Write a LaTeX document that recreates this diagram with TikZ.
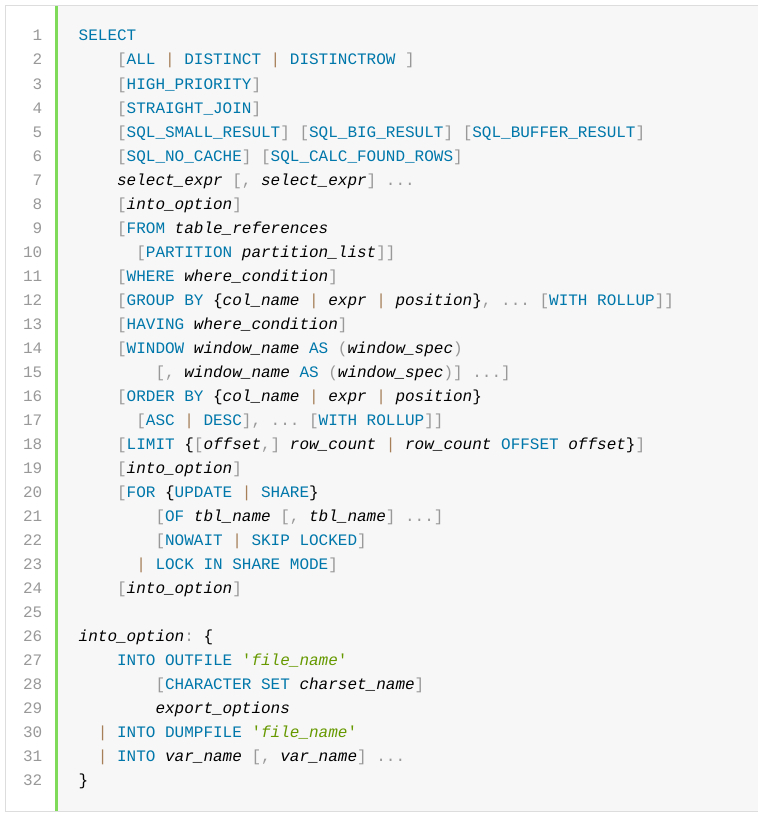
\documentclass[tikz,border=0pt]{standalone}
\usepackage{fontspec}
\setmonofont{Liberation Mono}
\usepackage{xcolor}
\definecolor{kwc}{HTML}{0077AA}
\definecolor{puc}{HTML}{999999}
\definecolor{opc}{HTML}{A67F59}
\definecolor{stc}{HTML}{669900}
\definecolor{numc}{HTML}{999999}
\definecolor{bgc}{HTML}{F7F7F7}
\definecolor{barc}{HTML}{80DA5A}
\definecolor{brc}{HTML}{DDDDDD}
\newcommand\kw[1]{\textcolor{kwc}{#1}}
\newcommand\pu[1]{\textcolor{puc}{#1}}
\newcommand\op{\textcolor{opc}{|}}
\newcommand\vi[1]{{\itshape #1}}
\newcommand\sq{\char"27\relax}
\newcommand\strg[1]{\textcolor{stc}{\sq{\itshape #1}\sq}}
\tikzset{
  codetext/.style={anchor=base west, inner sep=0pt, text=black,
    font=\ttfamily\fontsize{16}{24}\selectfont\frenchspacing},
  lnum/.style={anchor=base east, inner sep=0pt, text=numc,
    font=\ttfamily\fontsize{16}{24}\selectfont}
}
\newcommand\codeln[3]{%
  \node[codetext] (l#1) at ({78.5+9.6*#2}, {-41-24*(#1-1)}) {#3};
  \node[lnum] (n#1) at (42.5, {-41-24*(#1-1)}) {#1};}
\newcommand\numonly[1]{%
  \node[lnum] (n#1) at (42.5, {-41-24*(#1-1)}) {#1};}
\begin{document}
\begin{tikzpicture}[x=1pt,y=1pt]
\useasboundingbox (0,0) rectangle (758,-816);
\fill[white] (0,0) rectangle (758,-816);
\fill[bgc] (58,-5.5) rectangle (758,-811.5);
\fill[barc] (55,-6) rectangle (58,-811);
\draw[brc, line width=1pt] (758,-5.5) -- (5.5,-5.5) -- (5.5,-811.5) -- (758,-811.5);
\codeln{1}{0}{\kw{SELECT}}
\codeln{2}{4}{\pu{[}\kw{ALL} \op{} \kw{DISTINCT} \op{} \kw{DISTINCTROW} \pu{]}}
\codeln{3}{4}{\pu{[}\kw{HIGH\_PRIORITY}\pu{]}}
\codeln{4}{4}{\pu{[}\kw{STRAIGHT\_JOIN}\pu{]}}
\codeln{5}{4}{\pu{[}\kw{SQL\_SMALL\_RESULT}\pu{]} \pu{[}\kw{SQL\_BIG\_RESULT}\pu{]} \pu{[}\kw{SQL\_BUFFER\_RESULT}\pu{]}}
\codeln{6}{4}{\pu{[}\kw{SQL\_NO\_CACHE}\pu{]} \pu{[}\kw{SQL\_CALC\_FOUND\_ROWS}\pu{]}}
\codeln{7}{4}{\vi{select\_expr} \pu{[,} \vi{select\_expr}\pu{]} \pu{...}}
\codeln{8}{4}{\pu{[}\vi{into\_option}\pu{]}}
\codeln{9}{4}{\pu{[}\kw{FROM} \vi{table\_references}}
\codeln{10}{6}{\pu{[}\kw{PARTITION} \vi{partition\_list}\pu{]]}}
\codeln{11}{4}{\pu{[}\kw{WHERE} \vi{where\_condition}\pu{]}}
\codeln{12}{4}{\pu{[}\kw{GROUP BY} \{\vi{col\_name} \op{} \vi{expr} \op{} \vi{position}\}\pu{,} \pu{...} \pu{[}\kw{WITH ROLLUP}\pu{]]}}
\codeln{13}{4}{\pu{[}\kw{HAVING} \vi{where\_condition}\pu{]}}
\codeln{14}{4}{\pu{[}\kw{WINDOW} \vi{window\_name} \kw{AS} \pu{(}\vi{window\_spec}\pu{)}}
\codeln{15}{8}{\pu{[,} \vi{window\_name} \kw{AS} \pu{(}\vi{window\_spec}\pu{)]} \pu{...]}}
\codeln{16}{4}{\pu{[}\kw{ORDER BY} \{\vi{col\_name} \op{} \vi{expr} \op{} \vi{position}\}}
\codeln{17}{6}{\pu{[}\kw{ASC} \op{} \kw{DESC}\pu{],} \pu{...} \pu{[}\kw{WITH ROLLUP}\pu{]]}}
\codeln{18}{4}{\pu{[}\kw{LIMIT} \{\pu{[}\vi{offset}\pu{,]} \vi{row\_count} \op{} \vi{row\_count} \kw{OFFSET} \vi{offset}\}\pu{]}}
\codeln{19}{4}{\pu{[}\vi{into\_option}\pu{]}}
\codeln{20}{4}{\pu{[}\kw{FOR} \{\kw{UPDATE} \op{} \kw{SHARE}\}}
\codeln{21}{8}{\pu{[}\kw{OF} \vi{tbl\_name} \pu{[,} \vi{tbl\_name}\pu{]} \pu{...]}}
\codeln{22}{8}{\pu{[}\kw{NOWAIT} \op{} \kw{SKIP LOCKED}\pu{]}}
\codeln{23}{6}{\op{} \kw{LOCK IN SHARE MODE}\pu{]}}
\codeln{24}{4}{\pu{[}\vi{into\_option}\pu{]}}
\numonly{25}
\codeln{26}{0}{\vi{into\_option}\pu{:} \{}
\codeln{27}{4}{\kw{INTO OUTFILE} \strg{file\_name}}
\codeln{28}{8}{\pu{[}\kw{CHARACTER SET} \vi{charset\_name}\pu{]}}
\codeln{29}{8}{\vi{export\_options}}
\codeln{30}{2}{\op{} \kw{INTO DUMPFILE} \strg{file\_name}}
\codeln{31}{2}{\op{} \kw{INTO} \vi{var\_name} \pu{[,} \vi{var\_name}\pu{]} \pu{...}}
\codeln{32}{0}{\}}
\end{tikzpicture}
\end{document}
